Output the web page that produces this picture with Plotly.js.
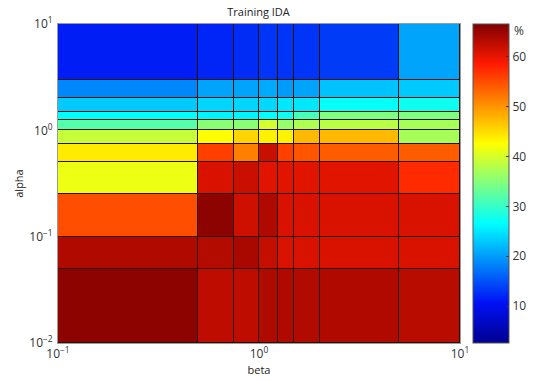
<!DOCTYPE html>
<html>
<head>
<meta charset="utf-8">
<script src="https://cdn.plot.ly/plotly-3.0.1.min.js"></script>
<style>html,body{margin:0;padding:0;background:#fff;}#chart{width:533px;height:381px;}</style>
</head>
<body>
<div id="chart"></div>
<script>
// cell edges (pcolor-style grid)
const betaEdges  = [0.1, 0.5, 0.75, 1, 1.25, 1.5, 2, 5, 10];
const alphaEdges = [0.01, 0.05, 0.1, 0.25, 0.5, 0.75, 1, 1.25, 1.5, 2, 3, 10];

// training IDA (%), one row per alpha band, bottom to top
const row_a001 = [65.8, 62.7, 62.7, 63.6, 63.6, 63.5, 63.6, 63.0];
const row_a005 = [63.6, 63.3, 64.0, 62.3, 61.0, 61.0, 61.0, 61.0];
const row_a010 = [55.0, 65.8, 61.7, 63.6, 61.0, 61.0, 61.0, 61.0];
const row_a025 = [41.5, 61.0, 62.0, 60.5, 60.5, 60.5, 60.5, 57.5];
const row_a050 = [44.0, 56.0, 51.5, 62.0, 56.0, 54.5, 54.0, 54.0];
const row_a075 = [39.0, 42.6, 45.5, 43.5, 43.5, 47.5, 47.5, 37.0];
const row_a100 = [32.0, 35.2, 35.2, 39.8, 36.0, 37.5, 38.3, 37.0];
const row_a125 = [26.6, 26.0, 26.0, 26.6, 27.5, 31.0, 34.6, 34.6];
const row_a150 = [23.0, 23.8, 23.8, 24.0, 25.0, 25.0, 27.0, 27.5];
const row_a200 = [18.6, 20.5, 20.5, 21.0, 20.0, 20.5, 22.5, 23.0];
const row_a300 = [11.5, 12.0, 12.5, 13.0, 13.0, 13.0, 13.5, 20.5];

const cbTicks = [10, 20, 30, 40, 50, 60];
const xTickVals = [0.1, 1, 10];
const xTickText = ['10<sup>\u22121</sup>', '10<sup>0</sup>', '10<sup>1</sup>'];
const yTickVals = [0.01, 0.1, 1, 10];
const yTickText = ['10<sup>\u22122</sup>', '10<sup>\u22121</sup>', '10<sup>0</sup>', '10<sup>1</sup>'];

const z = [row_a001, row_a005, row_a010, row_a025, row_a050, row_a075,
           row_a100, row_a125, row_a150, row_a200, row_a300];

const jet = [[0, '#00008f'], [0.125, '#0010f5'], [0.375, '#00ffff'],
             [0.625, '#ffff00'], [0.875, '#ff1a00'], [1, '#800000']];

const FONT = 'Open Sans, DejaVu Sans, sans-serif';

const trace = {
  type: 'heatmap',
  x: betaEdges,
  y: alphaEdges,
  z: z,
  zsmooth: false,
  colorscale: jet,
  zmin: 2.6,
  zmax: 66.6,
  xgap: 1,
  ygap: 1,
  hoverongaps: false,
  colorbar: {
    x: 1.032, xanchor: 'left', xpad: 0, xref: 'paper',
    y: 0.5, yanchor: 'middle', ypad: 0, len: 1, lenmode: 'fraction',
    thickness: 36, thicknessmode: 'pixels',
    outlinewidth: 1, outlinecolor: '#555',
    tickmode: 'array', tickvals: cbTicks,
    ticks: 'inside', ticklen: 3, tickcolor: '#333',
    tickfont: {family: FONT, size: 12, color: '#333'}
  }
};

const axisCommon = {
  type: 'log',
  showgrid: false,
  zeroline: false,
  showline: true,
  mirror: true,
  linecolor: '#9a9a9a',
  linewidth: 1,
  ticks: '',
  tickmode: 'array',
  tickfont: {family: FONT, size: 12, color: '#333'}
};

const layout = {
  width: 533,
  height: 381,
  margin: {l: 58, r: 73, t: 24, b: 38, pad: 0, autoexpand: false},
  paper_bgcolor: '#ffffff',
  plot_bgcolor: '#2a1208',
  title: {text: 'Training IDA', x: 0.485, xanchor: 'center', y: 0.968, yanchor: 'middle',
          font: {family: FONT, size: 11, color: '#222'}},
  xaxis: Object.assign({}, axisCommon, {
    range: [-1, 1],
    tickvals: xTickVals, ticktext: xTickText,
    title: {text: 'beta', standoff: 4, font: {family: FONT, size: 11, color: '#222'}}
  }),
  yaxis: Object.assign({}, axisCommon, {
    range: [-2, 1],
    tickvals: yTickVals, ticktext: yTickText,
    ticklabelstandoff: 2,
    title: {text: 'alpha', standoff: 3, font: {family: FONT, size: 11, color: '#222'}}
  }),
  annotations: [{
    text: '%', xref: 'paper', yref: 'paper', x: 1.13, y: 0.981,
    xanchor: 'left', yanchor: 'middle', showarrow: false,
    font: {family: FONT, size: 12, color: '#333'}
  }],
  showlegend: false
};

Plotly.newPlot('chart', [trace], layout, {displayModeBar: false, staticPlot: true});
</script>
</body>
</html>
